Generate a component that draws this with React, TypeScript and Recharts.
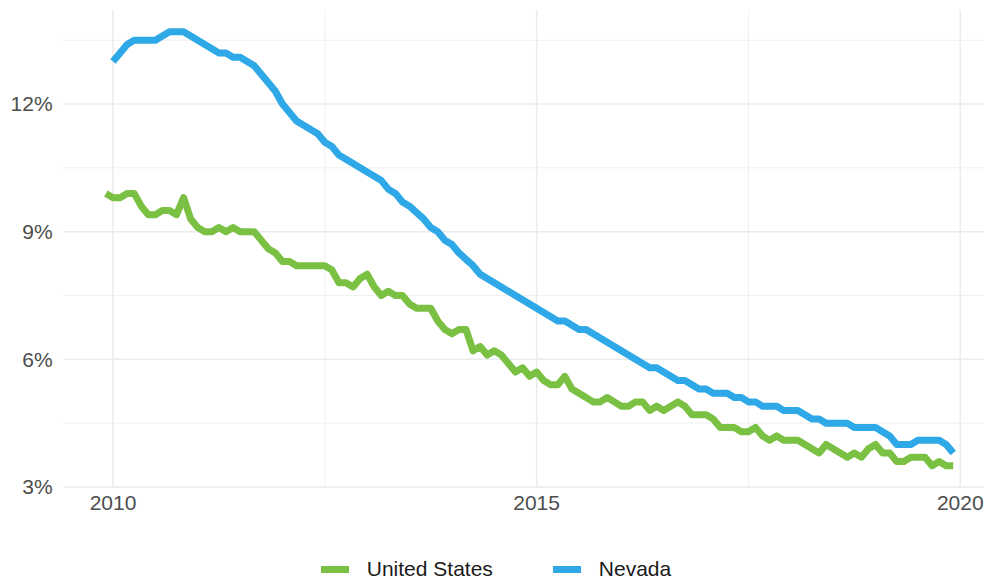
import { LineChart, Line, XAxis, YAxis, ReferenceLine, Legend } from 'recharts'

// monthly unemployment rate, seasonally adjusted
// US series starts Dec 2009, Nevada starts Jan 2010
const US_START = 2009 + 11 / 12
const NV_START = 2010

const usRate = [
  9.9,
  9.8, 9.8, 9.9, 9.9, 9.6, 9.4, 9.4, 9.5, 9.5, 9.4, 9.8, 9.3,
  9.1, 9.0, 9.0, 9.1, 9.0, 9.1, 9.0, 9.0, 9.0, 8.8, 8.6, 8.5,
  8.3, 8.3, 8.2, 8.2, 8.2, 8.2, 8.2, 8.1, 7.8, 7.8, 7.7, 7.9,
  8.0, 7.7, 7.5, 7.6, 7.5, 7.5, 7.3, 7.2, 7.2, 7.2, 6.9, 6.7,
  6.6, 6.7, 6.7, 6.2, 6.3, 6.1, 6.2, 6.1, 5.9, 5.7, 5.8, 5.6,
  5.7, 5.5, 5.4, 5.4, 5.6, 5.3, 5.2, 5.1, 5.0, 5.0, 5.1, 5.0,
  4.9, 4.9, 5.0, 5.0, 4.8, 4.9, 4.8, 4.9, 5.0, 4.9, 4.7, 4.7,
  4.7, 4.6, 4.4, 4.4, 4.4, 4.3, 4.3, 4.4, 4.2, 4.1, 4.2, 4.1,
  4.1, 4.1, 4.0, 3.9, 3.8, 4.0, 3.9, 3.8, 3.7, 3.8, 3.7, 3.9,
  4.0, 3.8, 3.8, 3.6, 3.6, 3.7, 3.7, 3.7, 3.5, 3.6, 3.5, 3.5,
]

const nvRate = [
  13.0, 13.2, 13.4, 13.5, 13.5, 13.5, 13.5, 13.6, 13.7, 13.7, 13.7, 13.6,
  13.5, 13.4, 13.3, 13.2, 13.2, 13.1, 13.1, 13.0, 12.9, 12.7, 12.5, 12.3,
  12.0, 11.8, 11.6, 11.5, 11.4, 11.3, 11.1, 11.0, 10.8, 10.7, 10.6, 10.5,
  10.4, 10.3, 10.2, 10.0, 9.9, 9.7, 9.6, 9.45, 9.3, 9.1, 9.0, 8.8,
  8.7, 8.5, 8.35, 8.2, 8.0, 7.9, 7.8, 7.7, 7.6, 7.5, 7.4, 7.3,
  7.2, 7.1, 7.0, 6.9, 6.9, 6.8, 6.7, 6.7, 6.6, 6.5, 6.4, 6.3,
  6.2, 6.1, 6.0, 5.9, 5.8, 5.8, 5.7, 5.6, 5.5, 5.5, 5.4, 5.3,
  5.3, 5.2, 5.2, 5.2, 5.1, 5.1, 5.0, 5.0, 4.9, 4.9, 4.9, 4.8,
  4.8, 4.8, 4.7, 4.6, 4.6, 4.5, 4.5, 4.5, 4.5, 4.4, 4.4, 4.4,
  4.4, 4.3, 4.2, 4.0, 4.0, 4.0, 4.1, 4.1, 4.1, 4.1, 4.0, 3.8,
]

const yearTicks = [2010, 2015, 2020]
const yearMinor = [2012.5, 2017.5]
const pctTicks = [3, 6, 9, 12]
const pctMinor = [4.5, 7.5, 10.5, 13.5]

const GREEN = '#7ac143'
const BLUE = '#2ea8e6'

const rows = usRate.map((v, i) => {
  const t = US_START + i / 12
  const j = Math.round((t - NV_START) * 12)
  return { t, us: v, nv: j >= 0 && j < nvRate.length ? nvRate[j] : null }
})

const legendItems = [
  { label: 'United States', color: GREEN },
  { label: 'Nevada', color: BLUE },
]

function ChartLegend() {
  return (
    <div style={{ display: 'flex', justifyContent: 'center', alignItems: 'center', height: 34, paddingLeft: 8 }}>
      {legendItems.map((it, i) => (
        <div key={it.label} style={{ display: 'flex', alignItems: 'center', marginLeft: i ? 60 : 0 }}>
          <div style={{ width: 28, height: 7, background: it.color, marginRight: 18 }} />
          <span style={{ fontSize: 21, color: '#1a1a1a', fontFamily: '"Liberation Sans", Arial, sans-serif' }}>{it.label}</span>
        </div>
      ))}
    </div>
  )
}

export default function App() {
  const tickStyle = { fontSize: 21, fill: '#4d4d4d', fontFamily: '"Liberation Sans", Arial, sans-serif' }
  return (
    <div style={{ position: 'absolute', left: 0, top: 0, background: '#fff' }}>
      <LineChart width={984} height={581} data={rows} margin={{ top: 10, right: 0, left: 0, bottom: 19.6 }}>
        {pctMinor.map((v) => (
          <ReferenceLine key={`hm${v}`} y={v} stroke="#f0f0f0" strokeWidth={1} />
        ))}
        {yearMinor.map((v) => (
          <ReferenceLine key={`vm${v}`} x={v} stroke="#f0f0f0" strokeWidth={1} />
        ))}
        {pctTicks.map((v) => (
          <ReferenceLine key={`h${v}`} y={v} stroke="#ebebeb" strokeWidth={1.5} />
        ))}
        {yearTicks.map((v) => (
          <ReferenceLine key={`v${v}`} x={v} stroke="#ebebeb" strokeWidth={1.5} />
        ))}
        <XAxis
          type="number"
          dataKey="t"
          domain={[2009.417, 2020.28]}
          allowDataOverflow
          ticks={yearTicks}
          tickLine={false}
          axisLine={false}
          tickSize={0}
          tickMargin={8}
          height={40}
          tick={tickStyle}
        />
        <YAxis
          type="number"
          domain={[2.99, 14.21]}
          allowDataOverflow
          ticks={pctTicks}
          tickFormatter={(v) => `${v}%`}
          tickLine={false}
          axisLine={false}
          tickSize={0}
          tickMargin={11}
          width={63.6}
          tick={tickStyle}
        />
        <Legend verticalAlign="bottom" content={<ChartLegend />} wrapperStyle={{ top: 552, left: 0, width: 984 }} />
        <Line
          type="linear"
          dataKey="us"
          name="United States"
          stroke={GREEN}
          strokeWidth={7}
          strokeLinejoin="round"
          dot={false}
          isAnimationActive={false}
        />
        <Line
          type="linear"
          dataKey="nv"
          name="Nevada"
          stroke={BLUE}
          strokeWidth={7}
          strokeLinejoin="round"
          dot={false}
          connectNulls={false}
          isAnimationActive={false}
        />
      </LineChart>
    </div>
  )
}
